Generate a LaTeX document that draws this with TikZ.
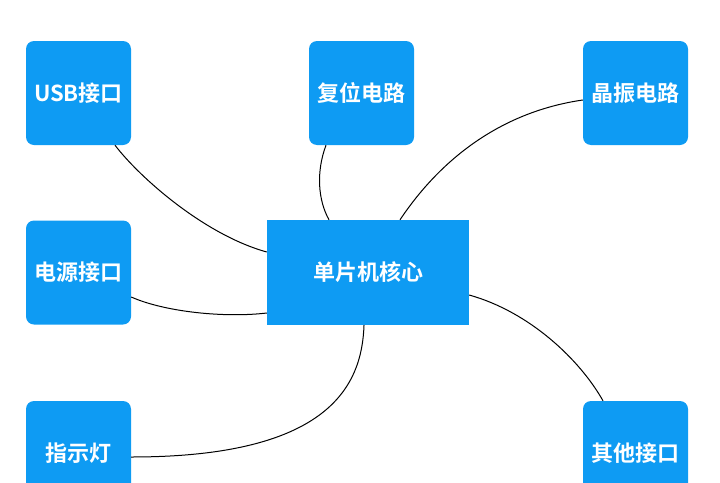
\documentclass[tikz,border=0pt]{standalone}
\usepackage{fontspec}
\setmainfont{Noto Sans CJK SC}[BoldFont={* Bold}]
\definecolor{boxblue}{HTML}{0E9BF3}
\tikzset{
  box/.style={fill=boxblue, draw=none, rounded corners=8pt, minimum width=105pt, minimum height=104pt, inner sep=0pt, text=white, font=\fontsize{22}{25}\selectfont\bfseries},
  corebox/.style={box, rounded corners=0pt, minimum width=202pt, minimum height=105pt},
  link/.style={draw=black, line width=1pt}
}
\begin{document}
\begin{tikzpicture}[x=1pt,y=-1pt]
\useasboundingbox (0,0) rectangle (720,482);
\clip (0,0) rectangle (720,482);
\node[box] (usb) at (78.5,93) {USB接口};
\node[box] (reset) at (361.5,93) {复位电路};
\node[box] (xtal) at (635.5,93) {晶振电路};
\node[box] (power) at (78.5,272.5) {电源接口};
\node[corebox] (core) at (368,272.5) {单片机核心};
\node[box] (led) at (78.5,453) {指示灯};
\node[box] (other) at (635.5,453) {其他接口};

\draw[link] ([xshift=36.5pt]usb.south) .. controls (140,178) and (205,235) .. ([yshift=20.5pt]core.west);
\draw[link] ([xshift=-35.5pt]reset.south) .. controls (316,172) and (318,200) .. ([xshift=-39pt]core.north);
\draw[link] ([yshift=-7pt]xtal.west) .. controls (500,112) and (440,160) .. ([xshift=32pt]core.north);
\draw[link] ([yshift=-24.5pt]power.east) .. controls (165,312) and (225,318) .. ([yshift=-40.5pt]core.west);
\draw[link] ([yshift=-4pt]led.east) .. controls (330,457) and (362,385) .. ([xshift=-4pt]core.south);
\draw[link] ([yshift=-22.5pt]core.east) .. controls (530,312) and (580,360) .. ([xshift=-32.5pt]other.north);
\end{tikzpicture}
\end{document}
